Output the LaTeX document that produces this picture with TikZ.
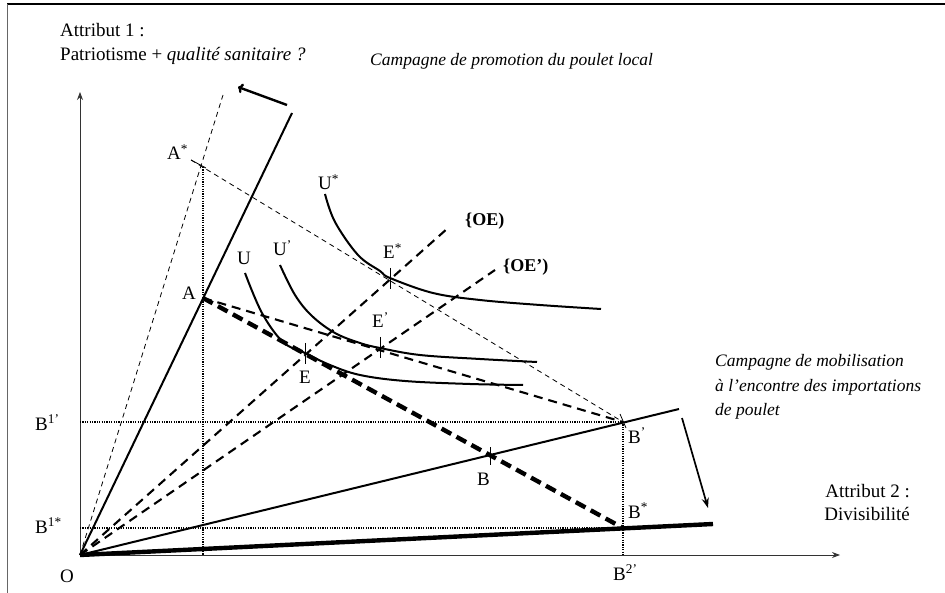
\documentclass[tikz,border=0pt]{standalone}
\usepackage{fontspec}
\setmainfont{Liberation Serif}
\usetikzlibrary{arrows.meta}
\begin{document}
\begin{tikzpicture}[x=1pt,y=-1pt,
  lab/.style={inner sep=0pt,anchor=base west,font=\fontsize{19}{22}\selectfont},
  blab/.style={inner sep=0pt,anchor=base west,font=\fontsize{18}{22}\selectfont\bfseries},
  itlab/.style={inner sep=0pt,font=\fontsize{17.5}{24}\selectfont\itshape,align=left},
  axis/.style={line width=0.9pt,draw=black!80,-{Stealth[length=8pt,width=6pt]}},
  solidln/.style={line width=2pt},
  thickln/.style={line width=4.4pt},
  thickdash/.style={line width=4.4pt,dash pattern=on 11pt off 6pt},
  meddash/.style={line width=2.1pt,dash pattern=on 9pt off 6pt},
  thindash/.style={line width=0.8pt,dash pattern=on 5pt off 4pt},
  dotln/.style={line width=1.6pt,dash pattern=on 1.2pt off 1.2pt},
  curve/.style={line width=2pt},
  tick/.style={line width=0.8pt}
]
\useasboundingbox (0,0) rectangle (945,593);
% frame
\draw[line width=1.4pt] (7,4) -- (945,4);
\draw[line width=1pt,draw=black!60] (7,4) -- (7,593);

% key points
\coordinate (O) at (80,555);
\coordinate (Ytop) at (80,92);
\coordinate (Xend) at (840,555);
\coordinate (A) at (203,298);
\coordinate (Astar) at (203,167);
\coordinate (Aext) at (191,160);
\coordinate (Bp) at (623,422);
\coordinate (Bstar) at (623,528);
\coordinate (B) at (490,456);
\coordinate (B1p) at (80,422);
\coordinate (B1s) at (80,528);
\coordinate (B2p) at (623,555);
\coordinate (Ax) at (203,555);
\coordinate (Rsolid) at (292,113);
\coordinate (Rdash) at (223,95);
\coordinate (Lsolid) at (679,409);
\coordinate (Lthick) at (713,524);
\coordinate (OEend) at (448,228);
\coordinate (OEpend) at (495,270);
\coordinate (E) at (305,353);
\coordinate (Ep) at (380,348);
\coordinate (Es) at (390,279);

% axes
\draw[axis] (O) -- (Ytop);
\draw[axis] (O) -- (Xend);

% dotted guides
\draw[dotln] (Astar) -- (Ax);
\draw[dotln] (B1p) -- (Bp);
\draw[dotln] (B1s) -- (Bstar);
\draw[dotln] (Bp) -- (B2p);

% rays from origin
\draw[solidln] (O) -- (Rsolid);
\draw[thindash] (O) -- (Rdash);
\draw[solidln] (O) -- (Lsolid);
\draw[thickln] (O) -- (Lthick);
\draw[meddash] (O) -- (OEend);
\draw[meddash] (O) -- (OEpend);

% budget lines
\draw[thindash] (Aext) -- (Bp);
\draw[tick] (Aext) -- (206,168);
\draw[meddash] (A) -- (Bp);
\draw[thickdash] (A) -- (Bstar);

% indifference curves
\draw[curve] plot[smooth,tension=0.6] coordinates {(245,273) (262,313) (283,342) (305,353) (330,365) (360,375) (405,381) (470,384) (523,385)};
\draw[curve] plot[smooth,tension=0.6] coordinates {(280,265) (295,295) (312,316) (335,333) (360,343) (380,348) (420,355) (480,359) (537,362)};
\draw[curve] plot[smooth,tension=0.6] coordinates {(325,194) (335,222) (358,255) (380,271) (390,278) (433,293) (480,300) (540,305) (601,309)};

% crosses
\draw[tick] (305,343) -- (305,364);
\draw[tick] (380,337) -- (380,358);
\draw[tick] (390,268) -- (390,289);
\draw[tick] (490,447) -- (490,465);
\draw[tick] (620,414) -- (626,428);

% arrows
\draw[line width=2.4pt,-{To[length=5pt,width=10pt]}] (287,105) -- (238,87);
\draw[line width=1.7pt,-{Stealth[length=10pt,width=7pt]}] (682,418) -- (708,508);

% labels
\node[lab] (t1) at (60,37) {Attribut 1 :};
\node[lab] (t2) at (60,61) {Patriotisme + \textit{qualité sanitaire ?}};
\node[itlab,anchor=base west] (t3) at (370,66) {Campagne de promotion du poulet local};
\node[itlab,anchor=base west] (t4) at (715,415) {Campagne de mobilisation\\à l’encontre des importations\\de poulet};
\node[lab,align=right,anchor=base east] (t5) at (910,520) {Attribut 2 :\\[1pt]Divisibilité};

\node[lab] (lAs) at (167,160) {A\textsuperscript{*}};
\node[lab] (lA) at (182,300) {A};
\node[lab] (lU) at (237,265) {U};
\node[lab] (lUp) at (273,256) {U\textsuperscript{’}};
\node[lab] (lUs) at (318,190) {U\textsuperscript{*}};
\node[lab] (lEs) at (383,259) {E\textsuperscript{*}};
\node[lab] (lEp) at (372,328) {E\textsuperscript{’}};
\node[lab] (lE) at (299,384) {E};
\node[blab] (lOE) at (465,226) {\{OE)};
\node[blab] (lOEp) at (503,272) {\{OE’)};
\node[lab] (lB) at (477,485) {B};
\node[lab] (lBp) at (628,443) {B\textsuperscript{’}};
\node[lab] (lBs) at (628,518) {B\textsuperscript{*}};
\node[lab] (lB1p) at (35,430) {B\textsuperscript{1’}};
\node[lab] (lB1s) at (35,533) {B\textsuperscript{1*}};
\node[lab] (lO) at (60,582) {O};
\node[lab] (lB2p) at (613,580) {B\textsuperscript{2’}};
\end{tikzpicture}
\end{document}
